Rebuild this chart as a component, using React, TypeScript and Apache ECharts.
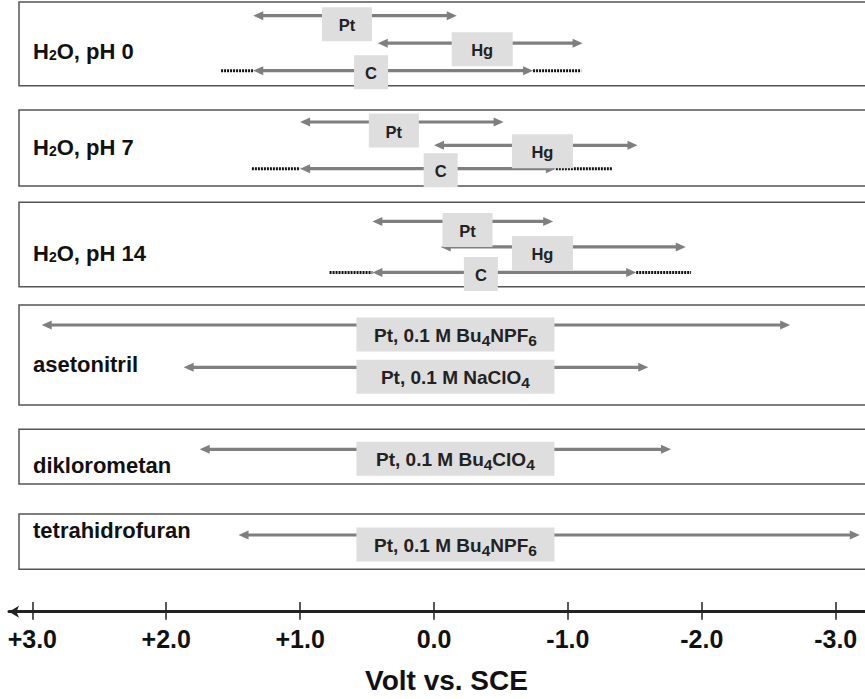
import React, { useEffect, useRef } from 'react';
import * as echarts from 'echarts';

// ---------- data ----------
const panelNames = ['H{s|2}O, pH 0', 'H{s|2}O, pH 7', 'H{s|2}O, pH 14', 'asetonitril', 'diklorometan', 'tetrahidrofuran'];
const rowPanel = [0, 0, 0, 1, 1, 1, 2, 2, 2, 3, 3, 4, 5];
const rowLane = [0, 1, 2, 0, 1, 2, 0, 1, 2, 0, 1, 0, 0];
const rowLabel = [
  'Pt', 'Hg', 'C',
  'Pt', 'Hg', 'C',
  'Pt', 'Hg', 'C',
  'Pt, 0.1 M Bu{s|4}NPF{s|6}',
  'Pt, 0.1 M NaClO{s|4}',
  'Pt, 0.1 M Bu{s|4}ClO{s|4}',
  'Pt, 0.1 M Bu{s|4}NPF{s|6}',
];
// potential window limits, Volt vs. SCE
const anodicLimit = [1.35, 0.42, 1.35, 1.0, 0.0, 1.0, 0.46, -0.05, 0.46, 2.93, 1.87, 1.75, 1.46];
const cathodicLimit = [-0.17, -1.11, -0.74, -0.52, -1.52, -0.91, -0.89, -1.88, -1.51, -2.66, -1.6, -1.77, -3.18];
const anodicExtended: (number | null)[] = [null, null, 1.59, null, null, 1.36, null, null, 0.78, null, null, null, null];
const cathodicExtended: (number | null)[] = [null, null, -1.1, null, null, -1.33, null, null, -1.92, null, null, null, null];
const labelAt = [0.65, -0.36, 0.47, 0.3, -0.81, -0.05, -0.25, -0.81, -0.35, -0.16, -0.16, -0.16, -0.16];
const tickValues = [3, 2, 1, 0, -1, -2, -3];
const axisTitle = 'Volt vs. SCE';

// ---------- layout / style ----------
const W = 865;
const H = 699;
const CHART_W = 885; // panels run past the right edge of the picture
const ZERO_X = 434;
const PX_PER_V = 133.9;
const vAt = (px: number) => (ZERO_X - px) / PX_PER_V;
const PANEL_LEFT = 19;
const PANEL_W = 860;
const PANEL_LAYOUT = [
  { top: 2, bottom: 85.7, row0: 15.7, gap: 27.5, labelY: 51 },
  { top: 110, bottom: 186, row0: 122, gap: 23.35, labelY: 147 },
  { top: 202.3, bottom: 286.7, row0: 221.4, gap: 25.5, labelY: 253.5 },
  { top: 305, bottom: 405, row0: 325, gap: 42.3, labelY: 364 },
  { top: 429.3, bottom: 484, row0: 449.3, gap: 30, labelY: 465.5 },
  { top: 514, bottom: 569.3, row0: 535, gap: 30, labelY: 530.5 },
];
const AXIS_Y = 611.7;
const FONT = '"Liberation Sans", Arial, Helvetica, sans-serif';
const ARROW = '#7f7f7f';
const BOX = '#dedede';
const BOX_H = 34;
const BOX_W: Record<string, number> = { Pt: 50, Hg: 61, C: 34, long: 198 };
const BOX_ABOVE: Record<string, number> = { Pt: 8.5, Hg: 11, C: 15.5, long: 7.5 };

function kindOf(r: number) {
  const l = rowLabel[r];
  return l.length > 3 ? 'long' : l;
}

function renderRow(params: any, api: any) {
  const a = api.value(0);
  const lane = api.value(1);
  const c = api.value(2);
  const r = api.value(3);
  const pA = api.coord([a, lane]);
  const pC = api.coord([c, lane]);
  const y = pA[1];
  const xl = Math.min(pA[0], pC[0]);
  const xr = Math.max(pA[0], pC[0]);
  const head = 10;
  const hw = 4.5;
  const children: any[] = [];
  const ae = anodicExtended[r];
  const ce = cathodicExtended[r];
  if (ae != null) {
    const px = api.coord([ae, lane])[0];
    children.push({ type: 'line', z2: 1, shape: { x1: Math.min(px, xl), y1: y, x2: Math.max(px, xl), y2: y }, style: { stroke: '#111', lineWidth: 3, lineDash: [2, 1] } });
  }
  if (ce != null) {
    const px = api.coord([ce, lane])[0];
    children.push({ type: 'line', z2: 1, shape: { x1: Math.min(px, xr), y1: y, x2: Math.max(px, xr), y2: y }, style: { stroke: '#111', lineWidth: 3, lineDash: [2, 1] } });
  }
  children.push({ type: 'line', z2: 2, shape: { x1: xl + head - 1, y1: y, x2: xr - head + 1, y2: y }, style: { stroke: ARROW, lineWidth: 3.2 } });
  children.push({ type: 'polygon', z2: 2, shape: { points: [[xl, y], [xl + head, y - hw], [xl + head, y + hw]] }, style: { fill: ARROW } });
  children.push({ type: 'polygon', z2: 2, shape: { points: [[xr, y], [xr - head, y - hw], [xr - head, y + hw]] }, style: { fill: ARROW } });

  const kind = kindOf(r);
  const cx = api.coord([labelAt[r], lane])[0];
  const w = BOX_W[kind];
  const top = y - BOX_ABOVE[kind];
  const fs = kind === 'long' ? 19 : 16.5;
  children.push({ type: 'rect', z2: 10, shape: { x: cx - w / 2, y: top, width: w, height: BOX_H }, style: { fill: BOX } });
  children.push({
    type: 'text',
    z2: 11,
    style: {
      text: rowLabel[r],
      x: cx,
      y: top + BOX_H / 2 + 1,
      align: 'center',
      verticalAlign: 'middle',
      fontSize: fs,
      fontWeight: 'bold',
      fontFamily: FONT,
      fill: '#222',
      rich: {
        s: { fontSize: 15.5, fontWeight: 'bold', fontFamily: FONT, fill: '#222', padding: [9, 0, 0, 0] },
      },
    },
  });
  return { type: 'group', children };
}

function buildOption() {
  const grids: any[] = [];
  const xAxes: any[] = [];
  const yAxes: any[] = [];
  const series: any[] = [];
  PANEL_LAYOUT.forEach((p, i) => {
    grids.push({
      left: PANEL_LEFT,
      top: p.top,
      width: PANEL_W,
      height: p.bottom - p.top,
      show: true,
      borderColor: '#555',
      borderWidth: 1.5,
      backgroundColor: 'transparent',
    });
    xAxes.push({
      gridIndex: i,
      type: 'value',
      inverse: true,
      min: vAt(PANEL_LEFT + PANEL_W),
      max: vAt(PANEL_LEFT),
      show: false,
    });
    yAxes.push({
      gridIndex: i,
      type: 'value',
      inverse: true,
      min: -(p.row0 - p.top) / p.gap,
      max: (p.bottom - p.row0) / p.gap,
      show: false,
    });
    const data: any[] = [];
    rowPanel.forEach((pi, r) => {
      if (pi === i) data.push([anodicLimit[r], rowLane[r], cathodicLimit[r], r]);
    });
    series.push({
      type: 'custom',
      xAxisIndex: i,
      yAxisIndex: i,
      silent: true,
      encode: { x: [0, 2], y: 1 },
      renderItem: renderRow,
      data,
    });
  });

  // tick grid
  const gTick = grids.length;
  grids.push({ left: ZERO_X - 3 * PX_PER_V, width: 6 * PX_PER_V, top: 602, height: AXIS_Y - 602 });
  xAxes.push({
    gridIndex: gTick,
    type: 'value',
    inverse: true,
    min: -3,
    max: 3,
    interval: 1,
    axisLine: { show: false },
    axisTick: { show: true, length: 8, lineStyle: { color: '#222', width: 1.5 } },
    splitLine: { show: true, lineStyle: { color: '#222', width: 1.5 } },
    axisLabel: {
      margin: 15,
      fontSize: 25,
      fontWeight: 'bold',
      fontFamily: FONT,
      color: '#111',
      formatter: (v: number) => {
        const t = tickValues.indexOf(v);
        if (t < 0) return '';
        const val = tickValues[t];
        return val > 0 ? '+' + val.toFixed(1) : val === 0 ? '0.0' : val.toFixed(1);
      },
    },
    name: axisTitle,
    nameLocation: 'middle',
    nameGap: 55,
    nameTextStyle: { fontSize: 28, fontWeight: 'bold', fontFamily: FONT, color: '#111', padding: [0, 0, 0, 25] },
  });
  yAxes.push({ gridIndex: gTick, type: 'value', show: false });

  // axis line with arrow
  const gLine = grids.length;
  grids.push({ left: 9, width: W - 9 + 2, top: 602, height: AXIS_Y - 602 });
  xAxes.push({
    gridIndex: gLine,
    type: 'value',
    min: 0,
    max: 1,
    axisLine: { show: true, symbol: ['arrow', 'none'], symbolSize: [9, 10], lineStyle: { color: '#222', width: 3 } },
    axisTick: { show: false },
    axisLabel: { show: false },
    splitLine: { show: false },
  });
  yAxes.push({ gridIndex: gLine, type: 'value', show: false });

  const graphic = panelNames.map((n, i) => ({
    type: 'text',
    x: 33,
    y: PANEL_LAYOUT[i].labelY,
    silent: true,
    style: {
      text: n,
      align: 'left',
      verticalAlign: 'middle',
      textAlign: 'left',
      textVerticalAlign: 'middle',
      fontSize: 22,
      fontWeight: 'bold',
      fontFamily: FONT,
      fill: '#111',
      rich: {
        s: { fontSize: 14, fontWeight: 'bold', fontFamily: FONT, fill: '#111', padding: [7, 0, 0, 0] },
      },
    },
  }));

  return {
    animation: false,
    backgroundColor: '#ffffff',
    textStyle: { fontFamily: FONT },
    grid: grids,
    xAxis: xAxes,
    yAxis: yAxes,
    series,
    graphic,
  };
}

export default function App() {
  const ref = useRef<HTMLDivElement>(null);
  useEffect(() => {
    if (!ref.current) return;
    const chart = echarts.init(ref.current, undefined, { renderer: 'svg' });
    chart.setOption(buildOption() as any);
    return () => chart.dispose();
  }, []);
  return (
    <div style={{ position: 'absolute', left: 0, top: 0, width: W, height: H, overflow: 'hidden', background: '#fff' }}>
      <div ref={ref} style={{ width: CHART_W, height: H }} />
    </div>
  );
}
